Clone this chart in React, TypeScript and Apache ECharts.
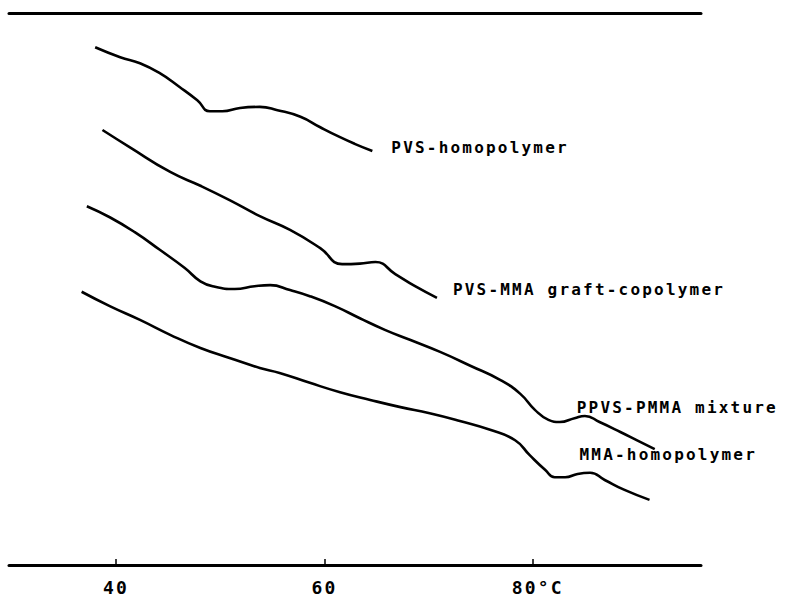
import React, { useEffect, useRef } from "react";
import * as echarts from "echarts";

// Temperature (°C) and relative signal (arbitrary units)
const pvsHomoT = [38.0, 40.4, 42.3, 44.2, 46.1, 47.8, 49.0, 50.2, 51.9, 53.8, 55.5, 57.7, 59.6, 61.5, 62.9, 64.6];
const pvsHomoV = [93.8, 92.0, 90.9, 89.1, 86.6, 84.2, 82.2, 82.2, 82.8, 83.0, 82.4, 81.2, 79.3, 77.5, 76.3, 75.0];

const graftT = [38.7, 41.3, 45.2, 48.1, 50.9, 53.8, 56.7, 59.6, 61.7, 63.4, 64.9, 66.8, 68.7, 70.8];
const graftV = [78.8, 75.7, 71.2, 68.7, 66.1, 63.2, 60.7, 57.4, 54.5, 54.6, 54.9, 52.7, 50.5, 48.4];

const mixT = [37.2, 39.4, 41.8, 44.2, 46.6, 48.1, 49.5, 51.4, 53.3, 54.8, 56.7, 58.6, 61.0, 63.4, 65.8, 68.2, 71.1, 74.0, 76.9, 78.8, 80.2, 81.5, 82.6, 84.0, 85.0, 86.4, 88.4, 90.3, 91.7];
const mixV = [65.0, 63.0, 60.3, 57.1, 53.8, 51.4, 50.4, 50.0, 50.5, 50.7, 49.8, 48.7, 46.9, 44.7, 42.6, 40.8, 38.6, 36.1, 33.5, 31.0, 28.1, 26.3, 25.9, 26.6, 27.0, 25.9, 24.1, 22.3, 21.0];

const mmaHomoT = [36.7, 39.4, 42.3, 45.2, 48.1, 50.9, 53.8, 55.7, 58.6, 61.5, 64.4, 67.3, 70.1, 73.0, 75.9, 78.3, 79.7, 81.2, 82.1, 83.1, 84.3, 85.5, 86.9, 88.8, 91.2];
const mmaHomoV = [49.5, 46.9, 44.4, 41.7, 39.3, 37.5, 35.7, 34.8, 33.0, 31.3, 29.9, 28.6, 27.5, 26.1, 24.5, 22.6, 19.9, 17.2, 15.9, 15.9, 16.5, 16.7, 15.4, 13.6, 11.8];

const seriesNames = ["PVS-homopolymer", "PVS-MMA graft-copolymer", "PPVS-PMMA mixture", "MMA-homopolymer"];
const tickValues = [40, 60, 80];
const xMin = 29.73;
const xMax = 96.14;

const pair = (t: number[], v: number[]) => t.map((x, i) => [x, v[i]]);

export default function App() {
  const ref = useRef<HTMLDivElement>(null);
  useEffect(() => {
    if (!ref.current) return;
    const chart = echarts.init(ref.current, undefined, { renderer: "svg" });
    const font = "'DejaVu Sans Mono', monospace";
    const labelOffsets: number[][] = [[19, -4], [16, -8], [-78, -42], [-70, -45]];
    const datasets = [pair(pvsHomoT, pvsHomoV), pair(graftT, graftV), pair(mixT, mixV), pair(mmaHomoT, mmaHomoV)];
    chart.setOption({
      animation: false,
      backgroundColor: "#ffffff",
      grid: { left: 9, right: 89, top: 13, bottom: 35 },
      xAxis: [
        {
          type: "value",
          position: "bottom",
          min: xMin,
          max: xMax,
          splitLine: { show: false },
          axisLine: { show: true, lineStyle: { color: "#000", width: 3 } },
          axisTick: { show: true, inside: true, length: 6, customValues: tickValues, lineStyle: { color: "#000", width: 1.5 } },
          axisLabel: {
            show: true,
            customValues: tickValues,
            margin: 13,
            color: "#000",
            fontFamily: font,
            fontSize: 18,
            fontWeight: "bold",
            formatter: (v: number) => (v === 80 ? "{u|80°C}" : String(v)),
            rich: { u: { padding: [0, 0, 0, 10], color: "#000", fontFamily: font, fontSize: 18, fontWeight: "bold" } },
          },
        },
        {
          type: "value",
          position: "top",
          min: xMin,
          max: xMax,
          splitLine: { show: false },
          axisLine: { show: true, lineStyle: { color: "#000", width: 3 } },
          axisTick: { show: false },
          axisLabel: { show: false },
        },
      ],
      yAxis: { type: "value", min: 0, max: 100, show: false },
      series: datasets.map((d, i) => ({
        type: "line",
        name: seriesNames[i],
        data: d,
        xAxisIndex: 0,
        smooth: 0.5,
        showSymbol: false,
        symbol: "none",
        lineStyle: { color: "#000", width: 2.6 },
        endLabel: {
          show: true,
          formatter: seriesNames[i],
          distance: 0,
          offset: labelOffsets[i],
          align: "left",
          verticalAlign: "middle",
          color: "#000",
          fontFamily: font,
          fontSize: 16,
          fontWeight: "bold",
        },
      })),
    });
    return () => chart.dispose();
  }, []);
  return (
    <>
      <style>{`.thermo-chart text { letter-spacing: 2.2px; }`}</style>
      <div
        ref={ref}
        className="thermo-chart"
        style={{ position: "absolute", left: 0, top: 0, width: 790, height: 600, background: "#fff" }}
      />
    </>
  );
}
